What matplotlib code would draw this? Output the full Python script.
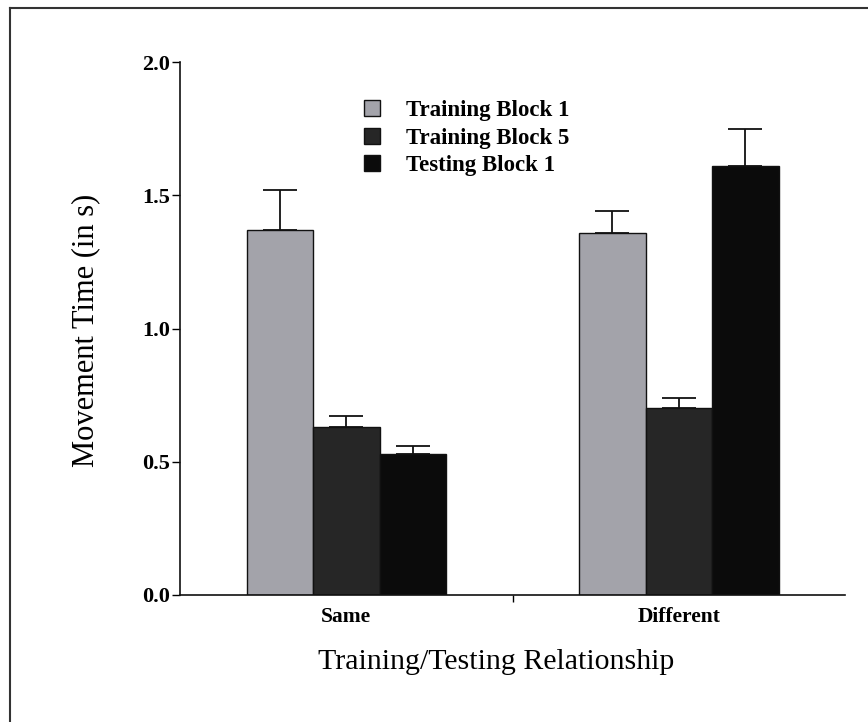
import matplotlib
matplotlib.use("Agg")
import matplotlib.pyplot as plt
import numpy as np
from matplotlib.lines import Line2D

categories = ["Same", "Different"]
series_names = ["Training Block 1", "Training Block 5", "Testing Block 1"]
tb1 = [1.37, 1.36]
tb5 = [0.63, 0.70]
test1 = [0.53, 1.61]
tb1_err = [0.15, 0.08]
tb5_err = [0.04, 0.04]
test1_err = [0.03, 0.14]
yticks = [0.0, 0.5, 1.0, 1.5, 2.0]

colors = ["#a3a3aa", "#262626", "#0b0b0b"]
serif = ["Liberation Serif", "DejaVu Serif"]

fig = plt.figure(figsize=(8.68, 7.22), dpi=100)
ax = fig.add_axes([180/868, 1-595/722, (845-180)/868, (595-62)/722])

centers = np.array([0.5, 1.5])
w = 0.2
offsets = [-w, 0.0, w]
vals = [tb1, tb5, test1]
errs = [tb1_err, tb5_err, test1_err]
for i in range(3):
    ax.bar(centers + offsets[i], vals[i], width=w, color=colors[i],
           edgecolor="#111111", linewidth=1.0, label=series_names[i], zorder=2)
    ax.errorbar(centers + offsets[i], vals[i], yerr=[np.zeros(2), errs[i]],
                fmt="none", ecolor="#111111", elinewidth=1.3, capsize=12,
                capthick=1.3, zorder=1)

ax.set_xlim(0, 2)
ax.set_ylim(0, 2.0)
ax.set_yticks(yticks)
ax.set_yticklabels([f"{v:.1f}" for v in yticks])
ax.set_xticks([1.0])
ax.set_xticklabels([""])
ax.tick_params(axis="x", direction="out", length=5, width=1)
ax.tick_params(axis="y", direction="out", length=6, width=1, pad=1)
for c, lab in zip(centers, categories):
    ax.text(c, -0.045, lab, transform=ax.transData, ha="center", va="top",
            fontsize=15.5, fontweight="bold", family=serif)
for lab in ax.get_yticklabels():
    lab.set_fontfamily(serif)
    lab.set_fontweight("bold")
    lab.set_fontsize(16)
for s in ["top", "right"]:
    ax.spines[s].set_visible(False)
for s in ["left", "bottom"]:
    ax.spines[s].set_linewidth(1.2)
    ax.spines[s].set_color("#111111")

ax.set_ylabel("Movement Time (in s)", fontsize=22, family=serif)
ax.yaxis.set_label_coords((100-180)/665, (595-330)/533)
fig.text(496/868, 1-662/722, "Training/Testing Relationship", ha="center", va="center",
         fontsize=21.5, family=serif)

leg = ax.legend(loc="upper left", bbox_to_anchor=((346-180)/665, (595-82)/533),
                frameon=False, handlelength=0.7, handleheight=0.7,
                handletextpad=1.1, labelspacing=0.28, borderpad=0.3,
                prop={"family": serif, "weight": "bold", "size": 16.5})

# figure frame
fig.add_artist(Line2D([10/868, 10/868], [0, 1-8/722], transform=fig.transFigure,
                      color="#333333", linewidth=1.5))
fig.add_artist(Line2D([10/868, 1], [1-8/722, 1-8/722], transform=fig.transFigure,
                      color="#333333", linewidth=1.5))

fig.savefig("out.png", dpi=100)
